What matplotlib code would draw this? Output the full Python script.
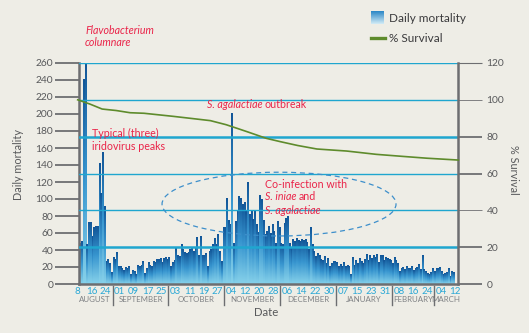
import numpy as np
import matplotlib
matplotlib.use('Agg')
import matplotlib.pyplot as plt
from matplotlib.patches import Ellipse
from matplotlib.lines import Line2D
from matplotlib.colors import LinearSegmentedColormap

# ---------------- data ----------------
# daily mortality, one value per day starting 8 August (day 0)
mortality = (
    [50, 48, 50, 240, 262, 47, 72, 72, 56, 66, 68, 68, 142, 106, 155, 91]
    + [26, 29, 24, 13, 31, 29, 37, 20]
    + [20, 18, 16, 19, 18, 20, 11, 16, 15, 11, 22, 20, 22, 27, 12, 18, 25, 22, 21, 26,
       25, 29, 29, 30, 25, 30, 31, 29, 31, 20]
    + [25, 28, 42, 33, 32, 46, 40, 37, 36, 37, 40, 43, 38, 42, 55, 33, 56, 33, 34, 36,
       21, 38, 40, 46, 54, 46, 58, 38, 27]
    + [67, 66, 101, 75, 70, 200]
    + [48, 74, 87, 103, 101, 93, 96, 86, 119, 82, 86, 76, 87, 70, 60, 104]
    + [100, 75, 58, 62, 68, 59, 70, 62, 48, 73, 66, 48, 46, 71, 77, 80, 48, 42, 52, 50,
       53, 51, 50, 52, 51, 52]
    + [49, 40, 66, 46, 38, 32, 36, 33, 29, 28, 32, 24, 30, 21, 24, 27, 26, 25, 21, 23,
       20, 25, 20, 22, 20, 11, 31, 22, 28, 24, 30, 26, 24, 29, 35, 28, 33, 30, 33, 31,
       35, 25, 33, 33, 28, 31, 30, 29, 28, 24, 31, 28, 24, 15, 18, 19, 17, 20, 18, 18,
       20, 16, 18, 19, 23, 17, 33, 17, 15, 12, 11, 14, 18, 15, 18, 18, 19, 15, 11, 12,
       13, 18, 9, 15, 13]
)
days = list(range(len(mortality)))

survival_days = [0, 7, 14, 22, 30, 38, 55, 66, 76, 85, 92, 97, 104, 108, 116, 126,
                 137, 154, 171, 186, 200, 218]
survival_pct = [100, 97.7, 95, 94.2, 93, 92.7, 91, 89.8, 88.7, 86.5, 84.3, 82.7, 80.4,
                79.1, 77.3, 75.2, 73.3, 72.2, 70.4, 69.3, 68.3, 67.3]

date_tick_days = list(range(0, 217, 8))
date_tick_labels = ['8', '16', '24', '01', '09', '17', '25', '03', '11', '19', '27',
                    '04', '12', '20', '28', '06', '14', '22', '30', '07', '15', '23',
                    '31', '08', '16', '24', '04', '12']
month_names = ['AUGUST', 'SEPTEMBER', 'OCTOBER', 'NOVEMBER', 'DECEMBER', 'JANUARY',
               'FEBRUARY', 'MARCH']
month_centers = [10, 36, 68, 100, 132, 164, 192, 211]
month_separators = [20, 52, 84, 116, 148, 180, 204]

mort_ticks = list(range(0, 261, 20))
surv_ticks = list(range(0, 121, 20))

# ---------------- style ----------------
W, H = 529, 333
BG = '#eeede6'
GREY = '#6d6e71'
TXT = '#58595b'
CYAN = '#1fa6cf'
RED = '#ea2449'
GREEN = '#5e8b2c'
FONT = ['Lato', 'DejaVu Sans']
plt.rcParams['font.family'] = FONT

fig = plt.figure(figsize=(W / 100, H / 100), dpi=100, facecolor=BG)
ax = fig.add_axes([79 / W, 49 / H, 379 / W, 221 / H])
ax.set_facecolor(BG)

# bars with per-bar vertical gradient
cmap = LinearSegmentedColormap.from_list('bar', ['#86d1ea', '#3795cf', '#125698'])
grad = np.linspace(0, 1, 64).reshape(-1, 1)
bars = ax.bar(days, mortality, width=0.92, align='edge', color='none', edgecolor='none')
for r in bars:
    x, w, h = r.get_x(), r.get_width(), r.get_height()
    ax.imshow(grad, extent=[x, x + w, 0, h], origin='lower', cmap=cmap,
              aspect='auto', interpolation='bilinear', zorder=2)

ax.set_xlim(0.745, 217.8)
ax.set_ylim(0, 260)
ax.set_xticks([])
ax.set_yticks(mort_ticks)
ax.tick_params(axis='y', direction='out', length=17, width=1.3, color=GREY,
               labelsize=7.4, labelcolor=TXT, pad=1.5)
for s in ['top', 'right']:
    ax.spines[s].set_visible(False)
for s in ['left', 'bottom']:
    ax.spines[s].set_linewidth(1.8)
    ax.spines[s].set_color(GREY)

# right axis
ax2 = ax.twinx()
ax2.set_ylim(0, 120)
ax2.set_xlim(0.745, 217.8)
ax2.set_yticks(surv_ticks)
ax2.tick_params(axis='y', direction='out', length=17, width=1.3, color=GREY,
                labelsize=7.4, labelcolor=TXT, pad=3.6)
tick_w = {0: 1.3, 20: 1.3, 40: 0.6, 60: 1.3, 80: 1.3, 100: 0.6, 120: 0.8}
for t, v in zip(ax2.yaxis.get_major_ticks(), surv_ticks):
    t.tick2line.set_markeredgewidth(tick_w[v])
for s in ['top', 'left', 'bottom']:
    ax2.spines[s].set_visible(False)
ax2.spines['right'].set_linewidth(1.8)
ax2.spines['right'].set_color(GREY)

grid_w = {20: 1.8, 40: 1.0, 60: 1.0, 80: 1.8, 100: 1.0, 120: 1.0}
for v, lw in grid_w.items():
    ax2.axhline(v, color=CYAN, lw=lw, zorder=1)

ax2.plot(survival_days, survival_pct, color=GREEN, lw=1.2, zorder=3, clip_on=False)

ell = Ellipse((115.3, 94), width=134, height=75, transform=ax.transData,
              fill=False, edgecolor='#3d8fcb', lw=0.9, linestyle=(0, (4, 3)), zorder=4)
ax2.add_patch(ell)

# date tick labels and months
xt = ax.get_xaxis_transform()
for d, lab in zip(date_tick_days, date_tick_labels):
    ax.text(d, (284 - 291) / 221, lab, transform=xt, ha='center', va='center',
            fontsize=7.0, color='#2aa8d6', clip_on=False)
for d, name in zip(month_centers, month_names):
    ax.text(d, (284 - 299.5) / 221, name, transform=xt, ha='center', va='center',
            fontsize=5.7, color='#808285', clip_on=False)
for d in month_separators:
    ax.plot([d, d], [(284 - 286) / 221, (284 - 305) / 221], transform=xt,
            color=GREY, lw=1.0, clip_on=False)

# axis labels
fig.text(18 / W, 1 - 164 / H, 'Daily mortality', rotation=90, ha='center', va='center',
         fontsize=7.8, color=TXT)
fig.text(514 / W, 1 - 170 / H, '% Survival', rotation=270, ha='center', va='center',
         fontsize=7.8, color=TXT)
fig.text(266 / W, 1 - 312 / H, 'Date', ha='center', va='center', fontsize=8.2, color=TXT)

# legend
lax = fig.add_axes([371 / W, 1 - 24 / H, 13 / W, 13 / H])
lax.imshow(grad, origin='lower', aspect='auto', interpolation='bilinear',
           cmap=LinearSegmentedColormap.from_list('lg', ['#d3ecf6', '#2a86c6']))
lax.axis('off')
fig.text(389 / W, 1 - 18.5 / H, 'Daily mortality', ha='left', va='center',
         fontsize=8.5, color='#3a3a3c')
fig.add_artist(Line2D([371 / W, 385 / W], [1 - 38 / H, 1 - 38 / H], color=GREEN, lw=2.4))
fig.text(389 / W, 1 - 38 / H, '% Survival', ha='left', va='center',
         fontsize=8.5, color='#3a3a3c')

# annotations (mixed italic / normal)
renderer = fig.canvas.get_renderer()


def seq_text(x_px, y_px, parts, size=7.7):
    x = x_px
    for txt, style in parts:
        t = fig.text(x / W, 1 - y_px / H, txt, style=style, ha='left', va='center',
                     fontsize=size, color=RED, zorder=10)
        x += t.get_window_extent(renderer).width + 2.3


seq_text(85, 31, [('Flavobacterium', 'italic')])
seq_text(85, 43, [('columnare', 'italic')])
seq_text(207, 105, [('S. agalactiae', 'italic'), ('outbreak', 'normal')])
seq_text(92, 133, [('Typical (three)', 'normal')])
seq_text(92, 146, [('iridovirus peaks', 'normal')])
seq_text(265, 185, [('Co-infection with', 'normal')])
seq_text(265, 197, [('S. iniae', 'italic'), ('and', 'normal')])
seq_text(265, 210, [('S. agalactiae', 'italic')])

fig.savefig('out.png', dpi=100, facecolor=BG)
